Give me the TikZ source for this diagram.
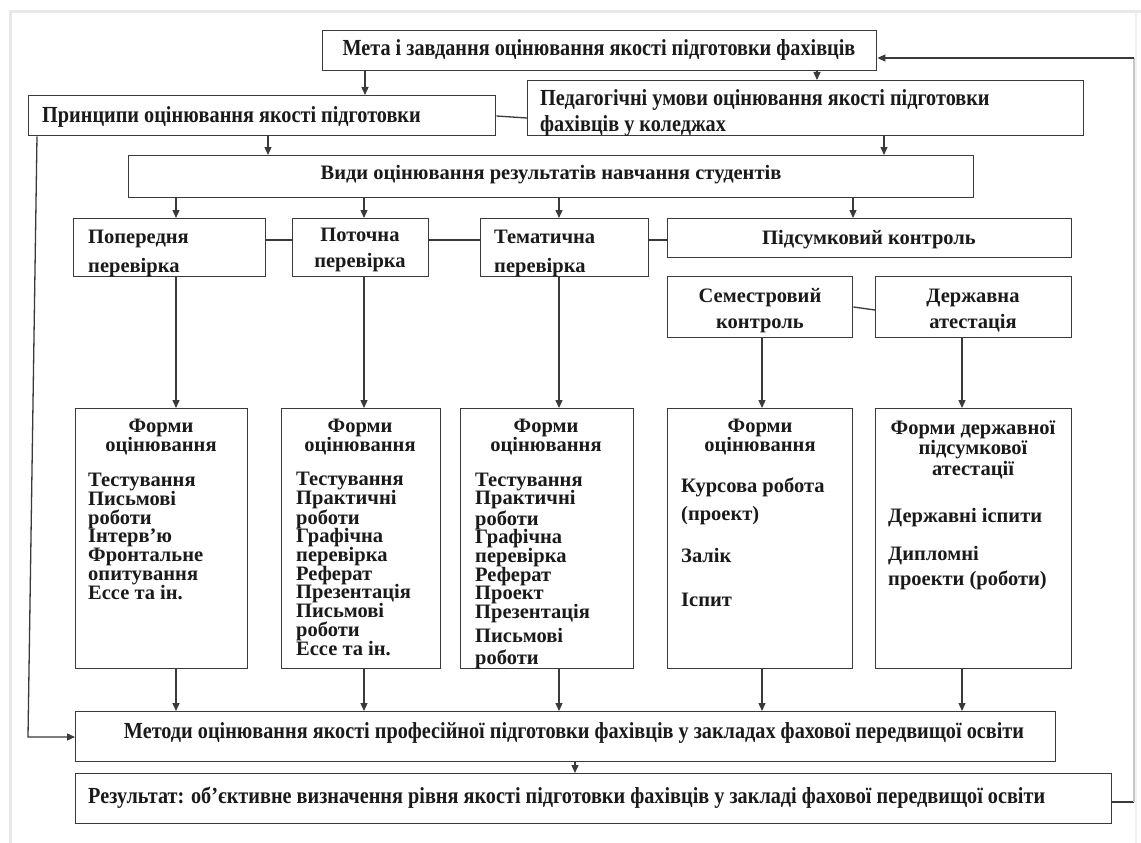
\documentclass[tikz,border=0pt]{standalone}
\usepackage{fontspec}
\setmainfont{Liberation Serif}
\newfontfamily\narrowf{Liberation Serif}[FakeStretch=0.88]
\usetikzlibrary{arrows.meta}
\definecolor{ln}{HTML}{3A3A3A}
\definecolor{tx}{HTML}{1A1A1A}
\tikzset{
 box/.style={draw=ln, line width=1.4pt, fill=white, inner sep=0pt, rectangle},
 conn/.style={draw=ln, line width=1.3pt},
 arr/.style={conn, -{Triangle[length=8pt,width=7pt]}},
 nt/.style={text=tx, inner sep=0pt, font=\narrowf\bfseries\fontsize{23}{26}\selectfont},
 rt/.style={text=tx, inner sep=0pt, font=\bfseries\fontsize{20.5}{26}\selectfont},
 ft/.style={text=tx, inner sep=0pt, font=\bfseries\fontsize{20.5}{18.7}\selectfont},
}
\newcommand\bx[5]{\node[box,anchor=north west,minimum width={(#4-#2)*1pt},minimum height={(#5-#3)*1pt}] (#1) at (#2,#3) {};}
\begin{document}
\begin{tikzpicture}[x=1pt,y=-1pt]
\useasboundingbox (0,0) rectangle (1141,843);
\fill[white] (0,0) rectangle (1141,843);
\draw[gray!18, line width=3pt] (10,843) -- (10,12) -- (1141,12);
\draw[gray!12, line width=2pt] (1136,12) -- (1136,843);
% boxes
\bx{meta}{322}{30}{876}{70}
\bx{prin}{28}{95}{495}{135}
\bx{ped}{527}{80}{1083}{135}
\bx{vydy}{128}{155}{973}{197}
\bx{pop}{73}{218}{265}{276}
\bx{pot}{292}{218}{428}{276}
\bx{tem}{480}{218}{648}{276}
\bx{pid}{667}{218}{1071}{257}
\bx{sem}{667}{276}{852}{337}
\bx{der}{875}{276}{1071}{337}
\bx{fa}{75}{408}{247}{668}
\bx{fb}{281}{408}{440}{668}
\bx{fc}{460}{408}{633}{668}
\bx{fd}{667}{408}{852}{668}
\bx{fe}{875}{408}{1071}{668}
\bx{meth}{75}{711}{1055}{761}
\bx{res}{75}{773}{1111}{823}
% texts
\node[nt,anchor=base] (meta-t) at (599,56) {Мета і завдання оцінювання якості підготовки фахівців};
\node[nt,anchor=base west] (prin-t) at (42,122) {Принципи оцінювання якості підготовки};
\node[nt,anchor=base west,align=left] (ped-t) at (540,131) {Педагогічні умови оцінювання якості підготовки\\фахівців у коледжах};
\node[rt,anchor=base] (vydy-t) at (551,179) {Види оцінювання результатів навчання студентів};
\begin{scope}
\clip (pop.north west) rectangle (pop.south east);
\node[rt,anchor=base west,align=left,font=\bfseries\fontsize{20.5}{29}\selectfont] (pop-t) at (88,272) {Попередня\\перевірка};
\end{scope}
\node[rt,anchor=base,align=center] (pot-t) at (360,267) {Поточна\\перевірка};
\begin{scope}
\clip (tem.north west) rectangle (tem.south east);
\node[rt,anchor=base west,align=left,font=\bfseries\fontsize{20.5}{29}\selectfont] (tem-t) at (494,272) {Тематична\\перевірка};
\end{scope}
\node[rt,anchor=base] (pid-t) at (869,244) {Підсумковий контроль};
\node[rt,anchor=base,align=center] (sem-t) at (760,328) {Семестровий\\контроль};
\node[rt,anchor=base,align=center] (der-t) at (973,328) {Державна\\атестація};
% forms
\node[ft,anchor=base,align=center] (fa-h) at (161,451) {Форми\\оцінювання};
\node[ft,anchor=base west,align=left] (fa-t) at (88,599) {Тестування\\Письмові\\роботи\\Інтерв’ю\\Фронтальне\\опитування\\Ессе та ін.};
\node[ft,anchor=base,align=center] (fb-h) at (360,451) {Форми\\оцінювання};
\node[ft,anchor=base west,align=left] (fb-t) at (296,655) {Тестування\\Практичні\\роботи\\Графічна\\перевірка\\Реферат\\Презентація\\Письмові\\роботи\\Ессе та ін.};
\node[ft,anchor=base,align=center] (fc-h) at (546,451) {Форми\\оцінювання};
\begin{scope}
\clip (fc.north west) rectangle (fc.south east);
\node[ft,anchor=base west,align=left] (fc-t) at (475,664) {Тестування\\Практичні\\роботи\\Графічна\\перевірка\\Реферат\\Проект\\Презентація\\[4.8pt]Письмові\\[3.3pt]роботи};
\end{scope}
\node[ft,anchor=base,align=center] (fd-h) at (760,451) {Форми\\оцінювання};
\node[ft,anchor=base west] (fd-1) at (681,492) {Курсова робота};
\node[ft,anchor=base west] (fd-2) at (681,520) {(проект)};
\node[ft,anchor=base west] (fd-3) at (681,562) {Залік};
\node[ft,anchor=base west] (fd-4) at (681,606) {Іспит};
\node[ft,anchor=base,align=center,font=\bfseries\fontsize{20.5}{20.5}\selectfont] (fe-h) at (973,475) {Форми державної\\підсумкової\\атестації};
\node[ft,anchor=base west] (fe-1) at (888,522) {Державні іспити};
\node[ft,anchor=base west,align=left,font=\bfseries\fontsize{20.5}{25}\selectfont] (fe-2) at (888,585) {Дипломні\\проекти (роботи)};
\node[nt,anchor=base] (meth-t) at (574,738) {Методи оцінювання якості професійної підготовки фахівців у закладах фахової передвищої освіти};
\node[nt,anchor=base west] (res-t) at (88,803) {Результат: об’єктивне визначення рівня якості підготовки фахівців у закладі фахової передвищої освіти};
% connectors
\draw[arr] (365,0 |- meta.south) -- (365,0 |- prin.north);
\draw[arr] (817,0 |- meta.south) -- (817,0 |- ped.north);
\draw[arr] (268,0 |- prin.south) -- (268,0 |- vydy.north);
\draw[arr] (884,0 |- ped.south) -- (884,0 |- vydy.north);
\draw[conn] (prin.east |- 0,116) -- (ped.west |- 0,118);
\draw[arr] (176,0 |- vydy.south) -- (176,0 |- pop.north);
\draw[arr] (364,0 |- vydy.south) -- (364,0 |- pot.north);
\draw[arr] (559,0 |- vydy.south) -- (559,0 |- tem.north);
\draw[arr] (853,0 |- vydy.south) -- (853,0 |- pid.north);
\draw[conn] (pop.east |- 0,240) -- (pot.west |- 0,240);
\draw[conn] (pot.east |- 0,240) -- (tem.west |- 0,240);
\draw[conn] (tem.east |- 0,240) -- (pid.west |- 0,240);
\draw[conn] (sem.east |- 0,307) -- (der.west |- 0,310);
\draw[arr] (176,0 |- pop.south) -- (176,0 |- fa.north);
\draw[arr] (364,0 |- pot.south) -- (364,0 |- fb.north);
\draw[arr] (559,0 |- tem.south) -- (559,0 |- fc.north);
\draw[arr] (762,0 |- sem.south) -- (762,0 |- fd.north);
\draw[arr] (962,0 |- der.south) -- (962,0 |- fe.north);
\draw[arr] (176,0 |- fa.south) -- (176,0 |- meth.north);
\draw[arr] (364,0 |- fb.south) -- (364,0 |- meth.north);
\draw[arr] (559,0 |- fc.south) -- (559,0 |- meth.north);
\draw[arr] (762,0 |- fd.south) -- (762,0 |- meth.north);
\draw[arr] (962,0 |- fe.south) -- (962,0 |- meth.north);
\draw[arr] (575,0 |- meth.south) -- (575,0 |- res.north);
\draw[arr] ([xshift=9pt]prin.south west) -- (28,737) -- (meth.west |- 0,737);
\draw[conn] (res.east |- 0,802) -- (1134,802);
\draw[conn, draw=gray!45] (1134,802) -- (1134,58);
\draw[arr] (1134,58) -- (meta.east |- 0,58);
\end{tikzpicture}
\end{document}
